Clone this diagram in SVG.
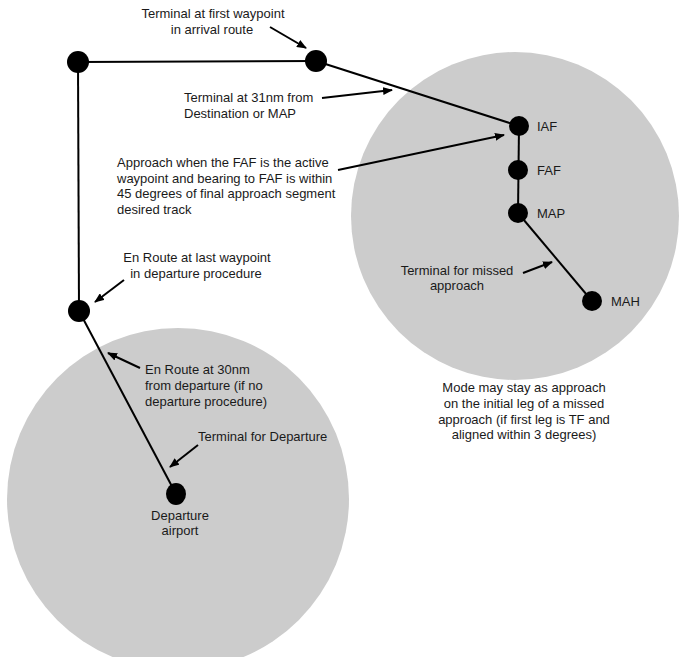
<svg xmlns="http://www.w3.org/2000/svg" width="682" height="657" viewBox="0 0 682 657">
<style>
.zone{fill:#cccccc;stroke:none}
.wp{fill:#000}
.leg{stroke:#000;stroke-width:2;fill:none}
.ptr{stroke:#000;stroke-width:2;fill:none;marker-end:url(#ah)}
text{font-family:"Liberation Sans",Arial,sans-serif;font-size:13px;fill:#1a1a1a}
.c{text-anchor:middle}
</style>
<defs>
<marker id="ah" viewBox="0 0 10 8" refX="9" refY="4" markerWidth="10" markerHeight="8" markerUnits="userSpaceOnUse" orient="auto">
<path d="M0,0 L10,4 L0,8 Z" fill="#000"/>
</marker>
</defs>
<g id="zones">
<circle class="zone" cx="178" cy="499" r="171"/>
<circle class="zone" cx="515" cy="216" r="164"/>
</g>
<g id="connectors">
<line class="leg" x1="78" y1="62" x2="316" y2="61"/>
<line class="leg" x1="78" y1="62" x2="79" y2="311"/>
<line class="leg" x1="316" y1="61" x2="519" y2="126"/>
<line class="leg" x1="519" y1="126" x2="518" y2="213"/>
<line class="leg" x1="518" y1="213" x2="592" y2="301"/>
<line class="leg" x1="79" y1="311" x2="176" y2="494"/>
<line class="ptr" x1="270" y1="27" x2="306" y2="48"/>
<line class="ptr" x1="322" y1="98" x2="392" y2="90"/>
<line class="ptr" x1="338" y1="170" x2="504" y2="135"/>
<line class="ptr" x1="124" y1="280" x2="95" y2="302"/>
<line class="ptr" x1="140" y1="368" x2="108" y2="353"/>
<line class="ptr" x1="198" y1="445" x2="170" y2="467"/>
<line class="ptr" x1="523" y1="273" x2="552" y2="262"/>
</g>
<g id="wp-corner"><circle class="wp" cx="78" cy="62" r="11"/></g>
<g id="wp-arrival"><circle class="wp" cx="316" cy="61" r="11"/></g>
<g id="wp-iaf"><circle class="wp" cx="519" cy="126" r="10"/><text x="537" y="131">IAF</text></g>
<g id="wp-faf"><circle class="wp" cx="518" cy="170" r="10"/><text x="537" y="175">FAF</text></g>
<g id="wp-map"><circle class="wp" cx="518" cy="213" r="10"/><text x="537" y="218">MAP</text></g>
<g id="wp-mah"><circle class="wp" cx="592" cy="301" r="10"/><text x="611" y="306">MAH</text></g>
<g id="wp-departure-end"><circle class="wp" cx="79" cy="311" r="11"/></g>
<g id="wp-departure-airport"><ellipse class="wp" cx="176" cy="494" rx="10" ry="11"/>
<text class="c" x="180" y="520">Departure</text><text class="c" x="180" y="535">airport</text></g>
<g id="labels">
<text class="c" x="213" y="18">Terminal at first waypoint</text>
<text class="c" x="212" y="34">in arrival route</text>
<text x="184" y="102">Terminal at 31nm from</text>
<text x="184" y="118">Destination or MAP</text>
<text x="117" y="167">Approach when the FAF is the active</text>
<text x="117" y="183">waypoint and bearing to FAF is within</text>
<text x="117" y="198">45 degrees of final approach segment</text>
<text x="117" y="214">desired track</text>
<text class="c" x="197" y="262">En Route at last waypoint</text>
<text class="c" x="196" y="278">in departure procedure</text>
<text x="145" y="374">En Route at 30nm</text>
<text x="145" y="390">from departure (if no</text>
<text x="145" y="406">departure procedure)</text>
<text x="198" y="441">Terminal for Departure</text>
<text class="c" x="457" y="275">Terminal for missed</text>
<text class="c" x="457" y="290">approach</text>
<text class="c" x="524" y="392">Mode may stay as approach</text>
<text class="c" x="524" y="408">on the initial leg of a missed</text>
<text class="c" x="524" y="424">approach (if first leg is TF and</text>
<text class="c" x="524" y="439">aligned within 3 degrees)</text>
</g>
</svg>
